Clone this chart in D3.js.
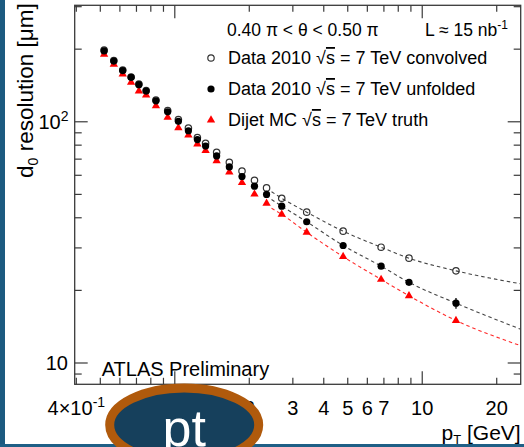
<!DOCTYPE html>
<html>
<head>
<meta charset="utf-8">
<script src="https://cdn.jsdelivr.net/npm/d3@7"></script>
<style>
  html, body { margin: 0; padding: 0; background: #fff; }
  svg { display: block; font-family: "Liberation Sans", Arial, Helvetica, sans-serif; }
</style>
</head>
<body>
<svg id="chart" width="524" height="447"></svg>
<script>
// Track transverse momentum bin centres [GeV]
const pT = [0.518, 0.567, 0.616, 0.666, 0.716, 0.766, 0.839, 0.936, 1.034, 1.135, 1.234, 1.332,
            1.476, 1.661, 1.869, 2.099, 2.349, 2.705, 3.413, 4.79, 6.82, 8.84, 13.69];

// d0 resolution [um]
const convolved = [198.2, 179.4, 163.8, 153.2, 143.3, 134.7, 123.0, 111.3, 102.1, 94.2, 86.0, 81.4,
                   74.7, 67.9, 62.5, 57.2, 53.2, 48.2, 42.2, 35.2, 30.2, 27.2, 24.1];
const unfolded = [196.7, 178.5, 163.0, 152.8, 142.5, 134.1, 122.2, 110.0, 100.4, 91.8, 84.4, 79.3,
                  72.2, 65.0, 59.3, 54.1, 50.0, 44.7, 38.5, 30.7, 25.2, 21.6, 17.7];
const unfoldedErr = [0, 0, 0, 0, 0, 0, 0, 0, 0, 0, 0, 0,
                     0, 0, 0, 0, 0, 0.1, 0.2, 0.2, 0.3, 0.5, 0.9];
const truth = [190.3, 172.9, 157.6, 145.7, 134.1, 129.0, 116.5, 104.3, 94.4, 88.1, 80.8, 76.0,
               68.9, 61.9, 55.9, 50.1, 45.9, 41.3, 34.8, 27.6, 22.2, 19.0, 15.0];

// Fitted high-pT trends (dashed)
const fitPt = [2.46, 2.705, 3.413, 4.79, 6.82, 8.84, 13.69, 25];
const fitConvolved = [51.3, 48.2, 42.2, 35.2, 30.2, 27.2, 24.1, 21.3];
const fitUnfolded = [47.6, 44.7, 38.5, 30.7, 25.2, 21.6, 17.7, 13.8];
const fitTruth = [43.8, 41.3, 34.8, 27.6, 22.2, 19.0, 15.0, 11.8];

// Axis ticks (the label at 1 sits under the caption badge)
const xMajor = [1, 10];
const xMinor = [0.4, 0.5, 0.6, 0.7, 0.8, 0.9, 2, 3, 4, 5, 6, 7, 8, 9, 20];
const xLabels = [
  { v: 0.4, t: "4\u00d710", sup: "-1" },
  { v: 2, t: "2" }, { v: 3, t: "3" }, { v: 4, t: "4" },
  { v: 5, t: "5" }, { v: 6, t: "6" }, { v: 7, t: "7" }, { v: 10, t: "10" }, { v: 20, t: "20" }
];
const yMajor = [10, 100];
const yMinor = [9, 20, 30, 40, 50, 60, 70, 80, 90, 200, 300];
const yLabels = [{ v: 10, t: "10" }, { v: 100, t: "10", sup: "2" }];

const W = 524, H = 447;
const margin = { left: 74.7, right: 3.3, top: 5.3, bottom: 62.7 };
const svg = d3.select("#chart");

const x = d3.scaleLog().domain([0.394, 25]).range([margin.left, W - margin.right]);
const y = d3.scaleLog().domain([8.16, 304]).range([H - margin.bottom, margin.top]);
const [x0, x1] = x.range();
const [y0, y1] = y.range();

svg.append("rect").attr("width", W).attr("height", H).attr("fill", "#fff");

const axisCol = "#3a3a3a";
const g = svg.append("g");

// frame
g.append("rect")
  .attr("x", x0).attr("y", y1).attr("width", x1 - x0).attr("height", y0 - y1)
  .attr("fill", "none").attr("stroke", axisCol).attr("stroke-width", 1.3);

// ticks on all four sides, pointing inward
function xTicks(vals, len) {
  vals.forEach(v => {
    const px = x(v);
    g.append("line").attr("x1", px).attr("x2", px).attr("y1", y0).attr("y2", y0 - len)
      .attr("stroke", axisCol).attr("stroke-width", 1.2);
    g.append("line").attr("x1", px).attr("x2", px).attr("y1", y1).attr("y2", y1 + len)
      .attr("stroke", axisCol).attr("stroke-width", 1.2);
  });
}
function yTicks(vals, len) {
  vals.forEach(v => {
    const py = y(v);
    g.append("line").attr("x1", x0).attr("x2", x0 + len).attr("y1", py).attr("y2", py)
      .attr("stroke", axisCol).attr("stroke-width", 1.2);
    g.append("line").attr("x1", x1).attr("x2", x1 - len).attr("y1", py).attr("y2", py)
      .attr("stroke", axisCol).attr("stroke-width", 1.2);
  });
}
xTicks(xMajor, 13);
xTicks(xMinor, 6.5);
yTicks(yMajor, 13);
yTicks(yMinor, 7);

// tick labels
const lab = svg.append("g").attr("font-size", 20).attr("fill", "#000");
xLabels.forEach(d => {
  const t = lab.append("text").attr("x", x(d.v)).attr("y", 415).attr("text-anchor", "middle").text(d.t);
  if (d.sup) t.append("tspan").attr("font-size", 14).attr("dy", -8).text(d.sup);
});
yLabels.forEach(d => {
  const t = lab.append("text").attr("x", d.sup ? 68.5 : 68).attr("y", y(d.v) + 7)
    .attr("text-anchor", "end").text(d.t);
  if (d.sup) t.append("tspan").attr("font-size", 14).attr("dy", -8).text(d.sup);
});

// axis titles
const xt = svg.append("text").attr("x", x1).attr("y", 440).attr("text-anchor", "end")
  .attr("font-size", 21);
xt.append("tspan").text("p");
xt.append("tspan").attr("font-size", 13).attr("dy", 4).text("T");
xt.append("tspan").attr("dy", -4).text(" [GeV]");

const yt = svg.append("text").attr("transform", `translate(33,${y1 - 2}) rotate(-90)`)
  .attr("text-anchor", "end").attr("font-size", 22.5);
yt.append("tspan").text("d");
yt.append("tspan").attr("font-size", 14).attr("dy", 5).text("0");
yt.append("tspan").attr("dy", -5).text(" resolution [\u03bcm]");

// fit curves
const fitLine = d3.line().x(d => x(d[0])).y(d => y(d[1])).curve(d3.curveMonotoneX);
const fits = [
  { v: fitConvolved, c: "#444" },
  { v: fitUnfolded, c: "#444" },
  { v: fitTruth, c: "#ff2a2a" }
];
fits.forEach(f => {
  svg.append("path").datum(fitPt.map((p, i) => [p, f.v[i]]))
    .attr("d", fitLine).attr("fill", "none").attr("stroke", f.c)
    .attr("stroke-width", 1.1).attr("stroke-dasharray", "3.5,3");
});

// markers
const tri = d3.symbol().type(d3.symbolTriangle).size(30);
const mk = svg.append("g");
// truth (red triangles)
mk.selectAll("path.tr").data(pT).join("path")
  .attr("transform", (p, i) => `translate(${x(p)},${y(truth[i])})`)
  .attr("d", tri).attr("fill", "#ff0000");
// convolved (open circles)
mk.selectAll("circle.cv").data(pT).join("circle")
  .attr("cx", p => x(p)).attr("cy", (p, i) => y(convolved[i])).attr("r", 3.2)
  .attr("fill", "none").attr("stroke", "#333").attr("stroke-width", 1.2);
// unfolded (filled circles with errors)
pT.forEach((p, i) => {
  if (unfoldedErr[i] > 0) {
    mk.append("line").attr("x1", x(p)).attr("x2", x(p))
      .attr("y1", y(unfolded[i] - unfoldedErr[i])).attr("y2", y(unfolded[i] + unfoldedErr[i]))
      .attr("stroke", "#000").attr("stroke-width", 1.3);
  }
});
mk.append("g").selectAll("circle").data(pT).join("circle")
  .attr("cx", p => x(p)).attr("cy", (p, i) => y(unfolded[i])).attr("r", 3.6)
  .attr("fill", "#000");

// legend
const leg = svg.append("g").attr("font-size", 18).attr("fill", "#000");
leg.append("text").attr("x", 227).attr("y", 36).attr("font-size", 17.5)
  .text("0.40 \u03c0 < \u03b8 < 0.50 \u03c0");
const lum = leg.append("text").attr("x", 425).attr("y", 36).attr("font-size", 17.5).text("L \u2248 15 nb");
lum.append("tspan").attr("font-size", 12).attr("dy", -7).text("-1");

const entries = [
  { pre: "Data 2010 ", post: " = 7 TeV convolved", m: "open", y: 64 },
  { pre: "Data 2010 ", post: " = 7 TeV unfolded", m: "filled", y: 95 },
  { pre: "Dijet MC ", post: " = 7 TeV truth", m: "tri", y: 126 }
];
entries.forEach(e => {
  const t = leg.append("text").attr("x", 228).attr("y", e.y);
  t.append("tspan").text(e.pre);
  t.append("tspan").text("\u221a");
  t.append("tspan").style("text-decoration", "overline").text("s");
  t.append("tspan").text(e.post);
  const my = e.y - 6;
  if (e.m === "open") {
    leg.append("circle").attr("cx", 211).attr("cy", my).attr("r", 3.2)
      .attr("fill", "none").attr("stroke", "#333").attr("stroke-width", 1.2);
  } else if (e.m === "filled") {
    leg.append("circle").attr("cx", 211).attr("cy", my).attr("r", 3.6).attr("fill", "#000");
  } else {
    leg.append("path").attr("transform", `translate(211,${my})`).attr("d", tri).attr("fill", "#ff0000");
  }
});

svg.append("text").attr("x", 101.7).attr("y", 376).attr("font-size", 20).text("ATLAS Preliminary");

// slide frame and caption badge
svg.append("rect").attr("x", 0).attr("y", 0).attr("width", 5).attr("height", H).attr("fill", "#1c5a80");
svg.append("rect").attr("x", 0).attr("y", 444).attr("width", W).attr("height", 3).attr("fill", "#1f5f86");
svg.append("ellipse").attr("cx", 184.2).attr("cy", 425).attr("rx", 74.5).attr("ry", 37)
  .attr("fill", "#16405c").attr("stroke", "#b05a0c").attr("stroke-width", 9);
svg.append("text").attr("x", 184.2).attr("y", 446).attr("text-anchor", "middle")
  .attr("font-size", 52).attr("fill", "#fff").text("pt");
</script>
</body>
</html>
